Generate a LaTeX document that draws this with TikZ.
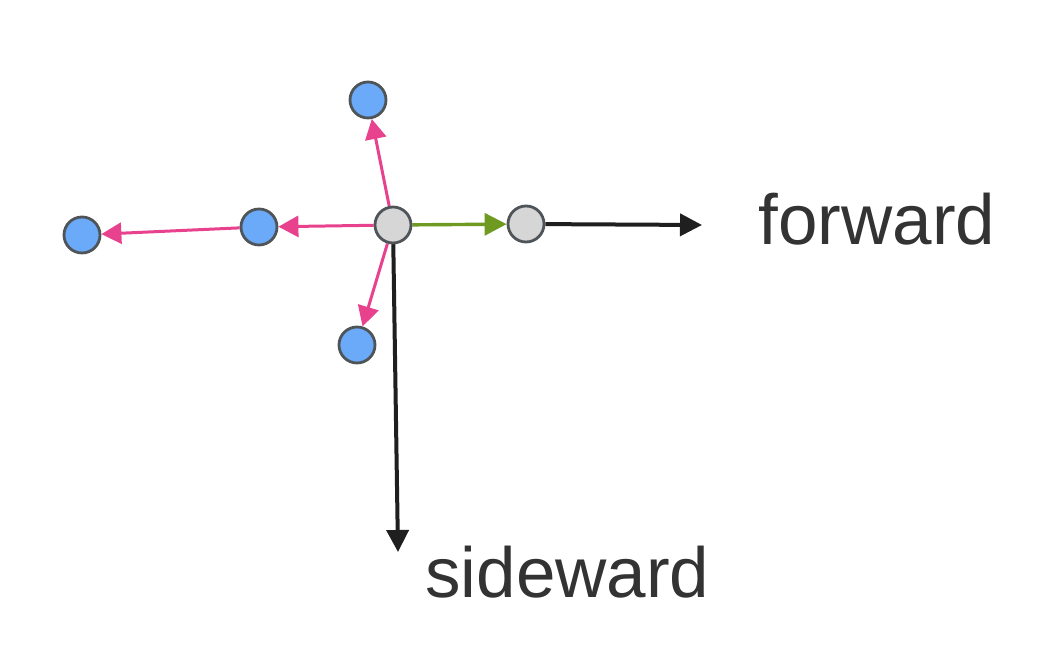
\documentclass[tikz,border=0pt]{standalone}
\usepackage{fontspec}
\setmainfont{Liberation Sans}
\usetikzlibrary{arrows.meta,backgrounds}
\definecolor{bluefill}{HTML}{6AAAF8}
\definecolor{grayfill}{HTML}{D6D6D6}
\definecolor{ringcol}{HTML}{4F5459}
\definecolor{pinkc}{HTML}{E8428F}
\definecolor{greenc}{HTML}{6E9A22}
\definecolor{textc}{HTML}{333333}
\tikzset{
  x=0.5pt, y=-0.5pt,
  pt/.style={circle, draw=ringcol, line width=1.4pt, minimum size=18pt, inner sep=0pt},
  bluept/.style={pt, fill=bluefill},
  graypt/.style={pt, fill=grayfill},
  pinkarr/.style={draw=pinkc, line width=1.5pt, -{Triangle[length=10pt,width=10.5pt]}, pinkc},
  greenarr/.style={draw=greenc, line width=1.7pt, -{Triangle[length=11pt,width=11pt]}, greenc},
  blackarr/.style={draw=black!88, line width=2pt, -{Triangle[length=11pt,width=11pt]}, black!88},
  lbl/.style={text=textc, font=\fontsize{35.5}{40}\selectfont, inner sep=0pt, anchor=base west}
}
\begin{document}
\begin{tikzpicture}
\useasboundingbox (0,0) rectangle (1050,672);
\node[graypt] (c) at (393,225) {};
\node[graypt] (f) at (526,224) {};
\node[bluept] (t) at (368,100) {};
\node[bluept] (l) at (259,227) {};
\node[bluept] (ll) at (82,235) {};
\node[bluept] (b) at (357,345) {};
\coordinate (ftip) at (702,225);
\coordinate (stip) at (398,552);
\node[lbl] (fw) at (758,245) {forward};
\node[lbl] (sw) at (425,598) {sideward};
\begin{scope}[on background layer]
\fill[white] (0,0) rectangle (1050,672);
\draw[blackarr] (c.center) -- (stip);
\draw[blackarr] (f) -- (ftip);
\draw[greenarr] (c) -- (f);
\draw[pinkarr] (c) -- (t);
\draw[pinkarr] (c) -- (l);
\draw[pinkarr] (l) -- (ll);
\draw[pinkarr] (c) -- (b);
\end{scope}
\end{tikzpicture}
\end{document}
